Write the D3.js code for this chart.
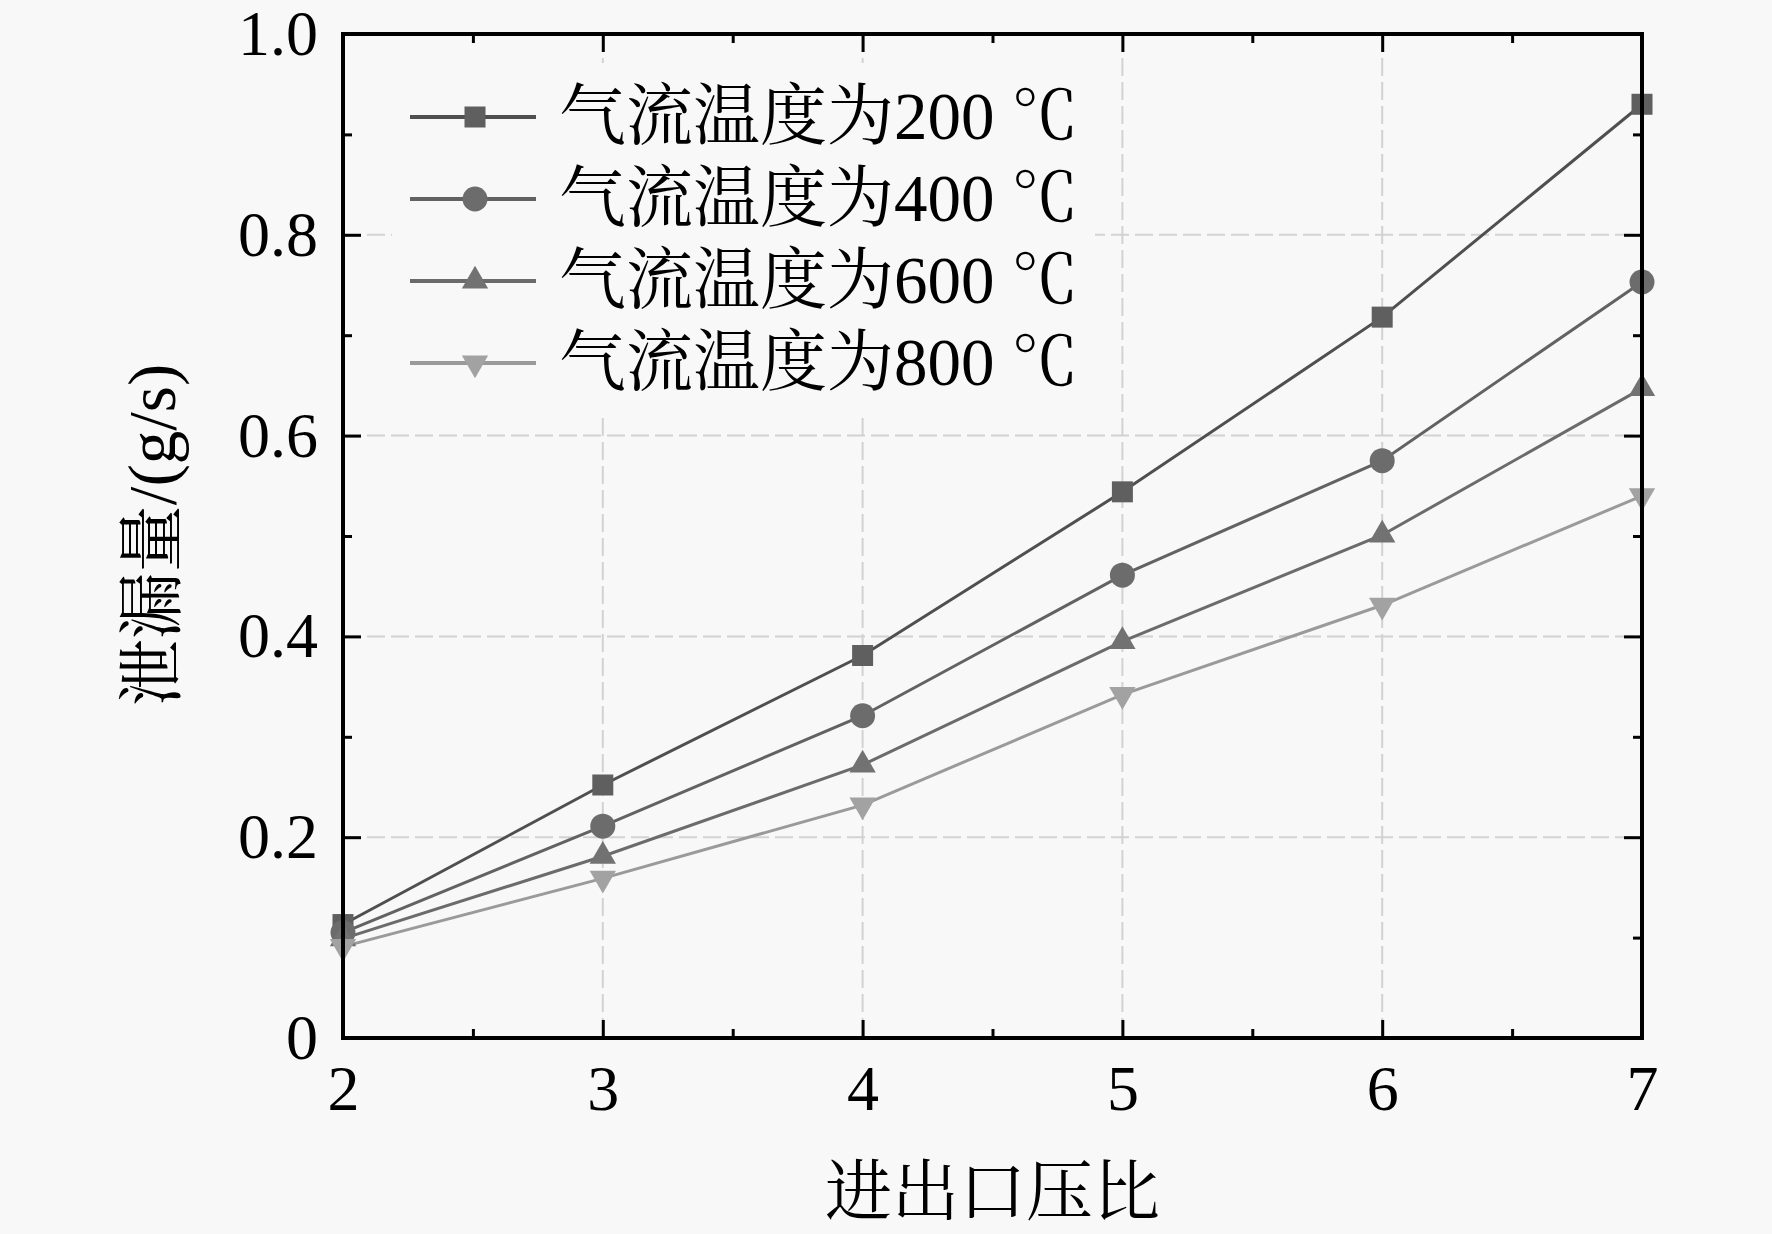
<!DOCTYPE html>
<html>
<head>
<meta charset="utf-8">
<script src="https://cdn.jsdelivr.net/npm/d3@7"></script>
<style>
  body { margin: 0; background: #f8f8f8; }
  svg { display: block; }
  text { font-family: "Liberation Serif", "Noto Serif CJK SC", "Noto Sans CJK SC", serif; fill: #000; }
</style>
</head>
<body>
<svg id="chart"></svg>
<script>
// data
const pressureRatio = [2, 3, 4, 5, 6, 7]
const flow200 = [0.113, 0.252, 0.381, 0.544, 0.718, 0.930]
const flow400 = [0.105, 0.211, 0.321, 0.461, 0.575, 0.753]
const flow600 = [0.099, 0.181, 0.272, 0.395, 0.501, 0.647]
const flow800 = [0.091, 0.159, 0.232, 0.342, 0.431, 0.540]
const seriesNames = ['气流温度为200 ℃', '气流温度为400 ℃', '气流温度为600 ℃', '气流温度为800 ℃']
const xTicks = [2, 3, 4, 5, 6, 7]
const xMinorTicks = [2.5, 3.5, 4.5, 5.5, 6.5]
const yTicks = [0, 0.2, 0.4, 0.6, 0.8, 1.0]
const yMinorTicks = [0.1, 0.3, 0.5, 0.7, 0.9]
const xTitle = '进出口压比'
const yTitle = '泄漏量/(g/s)'

//global variables
const w = 1772
const h = 1234
const plotLeft = 343
const plotRight = 1642
const plotTop = 34
const plotBottom = 1038
const fontSize = 64
const titleSize = 67

const series = [
  { name: seriesNames[0], values: flow200, symbol: d3.symbolSquare, size: 441, rotate: 0, line: '#4f4f4f', fill: '#5f5f5f' },
  { name: seriesNames[1], values: flow400, symbol: d3.symbolCircle, size: 490, rotate: 0, line: '#626262', fill: '#6c6c6c' },
  { name: seriesNames[2], values: flow600, symbol: d3.symbolTriangle, size: 300, rotate: 0, line: '#6b6b6b', fill: '#727272' },
  { name: seriesNames[3], values: flow800, symbol: d3.symbolTriangle, size: 300, rotate: 180, line: '#9a9a9a', fill: '#a2a2a2' }
]

const x = d3.scaleLinear().domain([2, 7]).range([plotLeft, plotRight])
const y = d3.scaleLinear().domain([0, 1]).range([plotBottom, plotTop])

const svg = d3.select('#chart')
              .attr('width', w)
              .attr('height', h)

svg.append('rect')
   .attr('width', w)
   .attr('height', h)
   .attr('fill', '#f8f8f8')

// grid lines
const grid = svg.append('g')
grid.selectAll('.vgrid')
    .data(xTicks.slice(1, -1))
    .enter()
    .append('line')
      .attr('x1', d => x(d))
      .attr('x2', d => x(d))
      .attr('y1', plotTop)
      .attr('y2', plotBottom)
grid.selectAll('.hgrid')
    .data(yTicks.slice(1, -1))
    .enter()
    .append('line')
      .attr('x1', plotLeft)
      .attr('x2', plotRight)
      .attr('y1', d => y(d))
      .attr('y2', d => y(d))
grid.selectAll('line')
    .attr('stroke', '#d2d2d2')
    .attr('stroke-width', 2)
    .attr('stroke-dasharray', '18,6')

// legend background hides the grid behind it
svg.append('rect')
   .attr('x', 392)
   .attr('y', 63)
   .attr('width', 703)
   .attr('height', 350)
   .attr('fill', '#f8f8f8')

// axes, ticks pointing inward
const styleAxis = (g) => {
  g.select('.domain').remove()
  g.selectAll('.tick line').attr('stroke', '#000').attr('stroke-width', 3)
  g.selectAll('.tick text').style('font-size', fontSize + 'px').attr('fill', '#000')
}

svg.append('g')
   .attr('transform', `translate(0, ${plotBottom})`)
   .call(d3.axisBottom(x).tickValues(xTicks).tickFormat(d3.format('d')).tickSizeInner(-18).tickSizeOuter(0).tickPadding(27))
   .call(styleAxis)
svg.append('g')
   .attr('transform', `translate(0, ${plotBottom})`)
   .call(d3.axisBottom(x).tickValues(xMinorTicks).tickFormat('').tickSizeInner(-9).tickSizeOuter(0))
   .call(styleAxis)
svg.append('g')
   .attr('transform', `translate(0, ${plotTop})`)
   .call(d3.axisTop(x).tickValues(xTicks).tickFormat('').tickSizeInner(-18).tickSizeOuter(0))
   .call(styleAxis)
svg.append('g')
   .attr('transform', `translate(0, ${plotTop})`)
   .call(d3.axisTop(x).tickValues(xMinorTicks).tickFormat('').tickSizeInner(-9).tickSizeOuter(0))
   .call(styleAxis)

svg.append('g')
   .attr('transform', `translate(${plotLeft}, 0)`)
   .call(d3.axisLeft(y).tickValues(yTicks).tickFormat(d => d === 0 ? '0' : d3.format('.1f')(d)).tickSizeInner(-18).tickSizeOuter(0).tickPadding(25))
   .call(styleAxis)
svg.append('g')
   .attr('transform', `translate(${plotLeft}, 0)`)
   .call(d3.axisLeft(y).tickValues(yMinorTicks).tickFormat('').tickSizeInner(-9).tickSizeOuter(0))
   .call(styleAxis)
svg.append('g')
   .attr('transform', `translate(${plotRight}, 0)`)
   .call(d3.axisRight(y).tickValues(yTicks).tickFormat('').tickSizeInner(-18).tickSizeOuter(0))
   .call(styleAxis)
svg.append('g')
   .attr('transform', `translate(${plotRight}, 0)`)
   .call(d3.axisRight(y).tickValues(yMinorTicks).tickFormat('').tickSizeInner(-9).tickSizeOuter(0))
   .call(styleAxis)

// series lines and markers
const line = d3.line()
               .x((d, i) => x(pressureRatio[i]))
               .y(d => y(d))

const plot = svg.append('g')
series.forEach(s => {
  plot.append('path')
      .attr('d', line(s.values))
      .attr('fill', 'none')
      .attr('stroke', s.line)
      .attr('stroke-width', 3)
})
series.forEach(s => {
  plot.selectAll(null)
      .data(s.values)
      .enter()
      .append('path')
        .attr('d', d3.symbol().type(s.symbol).size(s.size))
        .attr('transform', (d, i) => `translate(${x(pressureRatio[i])}, ${y(d)}) rotate(${s.rotate})`)
        .attr('fill', s.fill)
})

// frame
svg.append('rect')
   .attr('x', plotLeft)
   .attr('y', plotTop)
   .attr('width', plotRight - plotLeft)
   .attr('height', plotBottom - plotTop)
   .attr('fill', 'none')
   .attr('stroke', '#000')
   .attr('stroke-width', 4)

// legend
const legend = svg.append('g')
                  .selectAll('g')
                  .data(series)
                  .enter()
                  .append('g')
                  .attr('transform', (d, i) => `translate(0, ${117 + i * 82})`)
legend.append('line')
      .attr('x1', 410)
      .attr('x2', 536)
      .attr('stroke', d => d.line)
      .attr('stroke-width', 4)
legend.append('path')
      .attr('d', d => d3.symbol().type(d.symbol).size(d.size)())
      .attr('transform', d => `translate(475, 0) rotate(${d.rotate})`)
      .attr('fill', d => d.fill)
legend.append('text')
      .text(d => d.name)
      .attr('x', 559)
      .attr('y', 22)
      .style('font-size', titleSize + 'px')

// axis titles
svg.append('text')
   .text(xTitle)
   .attr('x', (plotLeft + plotRight) / 2)
   .attr('y', 1215)
   .attr('text-anchor', 'middle')
   .style('font-size', titleSize + 'px')
svg.append('text')
   .text(yTitle)
   .attr('transform', `translate(175, 535) rotate(-90)`)
   .attr('text-anchor', 'middle')
   .style('font-size', titleSize + 'px')
</script>
</body>
</html>
